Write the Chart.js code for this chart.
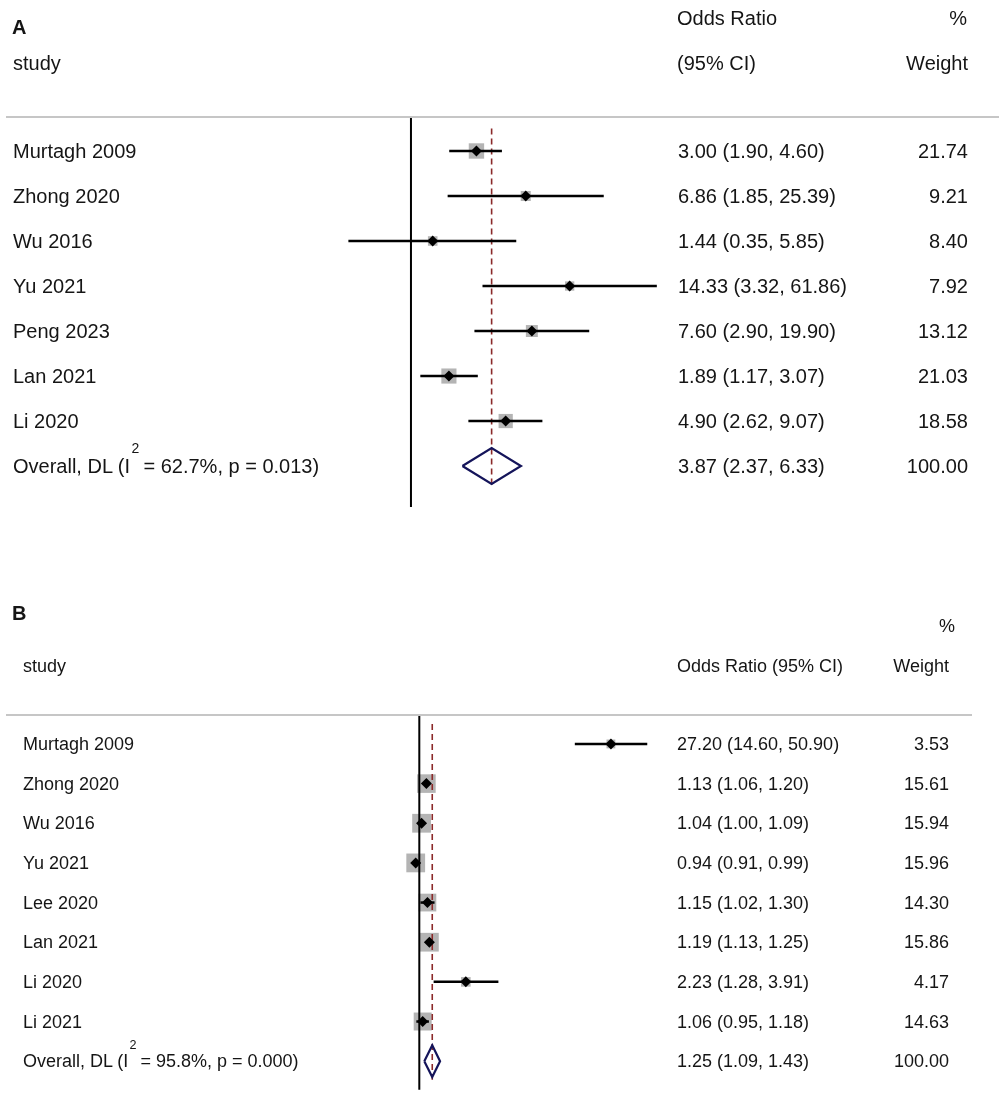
<!DOCTYPE html>
<html>
<head>
<meta charset="utf-8">
<script src="https://cdn.jsdelivr.net/npm/chart.js@4.4.0/dist/chart.umd.min.js"></script>
<style>
  body { margin:0; background:#fff; width:999px; height:1103px; position:relative; overflow:hidden;
         font-family: Arial, "Liberation Sans", sans-serif; color:#151515; }
  canvas { position:absolute; left:0; }
  .t { position:absolute; white-space:nowrap; line-height:1; transform:translateY(-50%); }
  .r { transform:translate(-100%,-50%); }
  .hl { position:absolute; height:2px; background:#c6c6c6; }
  sup { font-size:0.7em; position:relative; top:-1.45em; vertical-align:baseline; line-height:0;
        margin-left:0.1em; margin-right:0.3em; }
</style>
</head>
<body>
<canvas id="chartA" width="999" height="550" style="top:0px"></canvas>
<canvas id="chartB" width="999" height="543" style="top:560px"></canvas>
<script>
// ---- panel A data
const studiesA = ['Murtagh 2009', 'Zhong 2020', 'Wu 2016', 'Yu 2021', 'Peng 2023', 'Lan 2021', 'Li 2020'];
const orA  = [3.00, 6.86, 1.44, 14.33, 7.60, 1.89, 4.90];
const loA  = [1.90, 1.85, 0.35, 3.32, 2.90, 1.17, 2.62];
const hiA  = [4.60, 25.39, 5.85, 61.86, 19.90, 3.07, 9.07];
const wA   = [21.74, 9.21, 8.40, 7.92, 13.12, 21.03, 18.58];
const overallA = [3.87, 2.37, 6.33];   // estimate, lower, upper
const hetA = ['62.7%', '0.013'];

// ---- panel B data
const studiesB = ['Murtagh 2009', 'Zhong 2020', 'Wu 2016', 'Yu 2021', 'Lee 2020', 'Lan 2021', 'Li 2020', 'Li 2021'];
const orB  = [27.20, 1.13, 1.04, 0.94, 1.15, 1.19, 2.23, 1.06];
const loB  = [14.60, 1.06, 1.00, 0.91, 1.02, 1.13, 1.28, 0.95];
const hiB  = [50.90, 1.20, 1.09, 0.99, 1.30, 1.25, 3.91, 1.18];
const wB   = [3.53, 15.61, 15.94, 15.96, 14.30, 15.86, 4.17, 14.63];
const overallB = [1.25, 1.09, 1.43];
const hetB = ['95.8%', '0.000'];

function buildDatasets(or, lo, hi, w, ov, boxScale, yTop, yBottom) {
  const n = or.length;
  const ds = [];
  // study point estimates (black diamonds)
  ds.push({
    data: or.map((v, i) => ({x: v, y: i})),
    pointStyle: 'rectRot', pointRadius: 5.5, backgroundColor: '#000', borderWidth: 0,
    order: 1, clip: false
  });
  // confidence intervals
  for (let i = 0; i < n; i++) {
    ds.push({
      data: [{x: lo[i], y: i}, {x: hi[i], y: i}],
      showLine: true, borderColor: '#000', borderWidth: 2.5, pointRadius: 0,
      order: 2, clip: false
    });
  }
  // overall diamond
  ds.push({
    data: [{x: ov[1], y: n}, {x: ov[0], y: n - 0.4}, {x: ov[2], y: n}, {x: ov[0], y: n + 0.4}, {x: ov[1], y: n}],
    showLine: true, borderColor: '#14145a', borderWidth: 2.2, pointRadius: 0, fill: false,
    borderJoinStyle: 'miter', order: 1, clip: false
  });
  // line of no effect
  ds.push({
    data: [{x: 1, y: yTop}, {x: 1, y: yBottom}],
    showLine: true, borderColor: '#000', borderWidth: 2, pointRadius: 0, order: 3, clip: false
  });
  // overall estimate, dashed
  ds.push({
    data: [{x: ov[0], y: -0.5}, {x: ov[0], y: n + 0.47}],
    showLine: true, borderColor: '#8b2a2a', borderWidth: 1.6, borderDash: [6, 4],
    pointRadius: 0, order: 3, clip: false
  });
  // weight boxes
  ds.push({
    data: or.map((v, i) => ({x: v, y: i})),
    pointStyle: 'rect', pointRadius: w.map(v => boxScale * Math.sqrt(v) / Math.SQRT2),
    backgroundColor: '#b4b4b4', borderWidth: 0, order: 5, clip: false
  });
  return ds;
}

function makeChart(id, datasets, xMin, xMax, yMin, yMax, pad) {
  return new Chart(document.getElementById(id), {
    type: 'scatter',
    data: { datasets: datasets },
    options: {
      responsive: false,
      animation: false,
      events: [],
      layout: { padding: pad },
      plugins: { legend: { display: false }, tooltip: { enabled: false } },
      scales: {
        x: { type: 'logarithmic', min: xMin, max: xMax, display: false },
        y: { type: 'linear', min: yMin, max: yMax, reverse: true, display: false }
      }
    }
  });
}

const chartA = makeChart('chartA',
  buildDatasets(orA, loA, hiA, wA, overallA, 3.3, -0.733, 7.91),
  0.3, 70, -0.733, 7.91,
  {left: 339.2, right: 334.8, top: 118, bottom: 43});

const chartB = makeChart('chartB',
  buildDatasets(orB, loB, hiB, wB, overallB, 4.7, -0.73, 8.72),
  0.5, 60, -0.73, 8.72,
  {left: 379.1, right: 342.2, top: 155, bottom: 10});

// ---- text
function addText(html, x, y, size, opts) {
  opts = opts || {};
  const d = document.createElement('div');
  d.className = 't' + (opts.right ? ' r' : '');
  d.style.left = x + 'px';
  d.style.top = y + 'px';
  d.style.fontSize = size + 'px';
  if (opts.bold) d.style.fontWeight = 'bold';
  d.innerHTML = html;
  document.body.appendChild(d);
}
function addRule(x, y, w) {
  const d = document.createElement('div');
  d.className = 'hl';
  d.style.left = x + 'px'; d.style.top = y + 'px'; d.style.width = w + 'px';
  document.body.appendChild(d);
}
const fmt = v => v.toFixed(2);

function writeColumns(chart, top, studies, or, lo, hi, w, ov, het, size, xLabel, xCi, xW) {
  const ys = chart.scales.y;
  const n = studies.length;
  studies.forEach((s, i) => {
    const y = top + ys.getPixelForValue(i);
    addText(s, xLabel, y, size);
    addText(fmt(or[i]) + ' (' + fmt(lo[i]) + ', ' + fmt(hi[i]) + ')', xCi, y, size);
    addText(fmt(w[i]), xW, y, size, {right: true});
  });
  const y = top + ys.getPixelForValue(n);
  addText('Overall, DL (I<sup>2</sup>= ' + het[0] + ', p = ' + het[1] + ')', xLabel, y, size);
  addText(fmt(ov[0]) + ' (' + fmt(ov[1]) + ', ' + fmt(ov[2]) + ')', xCi, y, size);
  addText('100.00', xW, y, size, {right: true});
}

// panel A headers
addText('A', 12, 27, 20, {bold: true});
addText('Odds Ratio', 677, 18, 20);
addText('%', 967, 18, 20, {right: true});
addText('study', 13, 63, 20);
addText('(95% CI)', 677, 63, 20);
addText('Weight', 968, 63, 20, {right: true});
addRule(6, 116, 993);
writeColumns(chartA, 0, studiesA, orA, loA, hiA, wA, overallA, hetA, 20, 13, 678, 968);

// panel B headers
addText('B', 12, 613, 20, {bold: true});
addText('%', 955, 626, 18, {right: true});
addText('study', 23, 666, 18);
addText('Odds Ratio (95% CI)', 677, 666, 18);
addText('Weight', 949, 666, 18, {right: true});
addRule(6, 714, 966);
writeColumns(chartB, 560, studiesB, orB, loB, hiB, wB, overallB, hetB, 18, 23, 677, 949);
</script>
</body>
</html>
